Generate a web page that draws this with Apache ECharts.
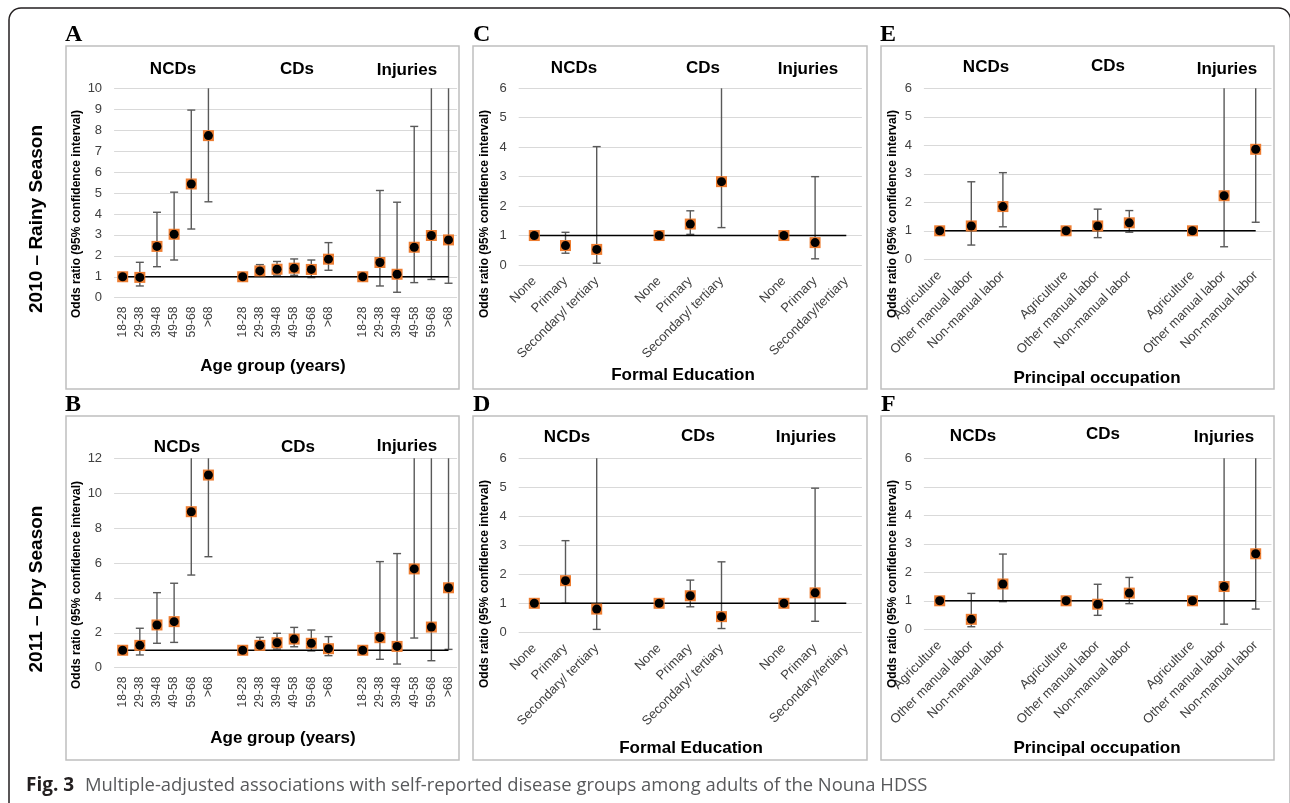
<!DOCTYPE html>
<html><head><meta charset="utf-8">
<script src="https://cdn.jsdelivr.net/npm/echarts@6/dist/echarts.min.js"></script>
<style>html,body{margin:0;padding:0;background:#fff}#c{width:1290px;height:803px}</style>
</head><body><div id="c"></div>
<script>
// ---------- DATA ----------
const groupNames = ['NCDs', 'CDs', 'Injuries'];
const ageCats = ['18-28', '29-38', '39-48', '49-58', '59-68', '>68'];
const eduCats = ['None', 'Primary', 'Secondary/ tertiary'];
const eduCatsInj = ['None', 'Primary', 'Secondary/tertiary'];
const occCats = ['Agriculture', 'Other manual labor', 'Non-manual labor'];

// Panel A: 2010 rainy season, age group (rows: NCDs, CDs, Injuries)
const aOR = [[1, 0.97, 2.45, 3.03, 5.43, 7.74], [1, 1.28, 1.36, 1.41, 1.35, 1.84], [1, 1.68, 1.12, 2.41, 2.97, 2.76]];
const aLo = [[null, 0.56, 1.48, 1.80, 3.28, 4.58], [null, 1.03, 1.08, 1.07, 0.96, 1.31], [null, 0.56, 0.26, 0.72, 0.87, 0.69]];
const aHi = [[null, 1.69, 4.08, 5.04, 8.96, 13.1], [null, 1.58, 1.73, 1.85, 1.80, 2.63], [null, 5.12, 4.56, 8.18, 10.6, 11.2]];
// Panel B: 2011 dry season, age group
const bOR = [[1, 1.28, 2.45, 2.64, 8.94, 11.04], [1, 1.28, 1.43, 1.64, 1.40, 1.09], [1, 1.72, 1.22, 5.66, 2.33, 4.58]];
const bLo = [[null, 0.73, 1.40, 1.45, 5.31, 6.36], [null, 1.08, 1.07, 1.20, 0.96, 0.69], [null, 0.48, 0.21, 1.70, 0.40, 1.05]];
const bHi = [[null, 2.26, 4.30, 4.84, 15.1, 19.3], [null, 1.74, 1.97, 2.31, 2.16, 1.78], [null, 6.08, 6.54, 19.0, 13.5, 20.3]];
// Panel C: 2010, formal education
const cOR = [[1, 0.66, 0.53], [1, 1.39, 2.83], [1, 0.76, null]];
const cLo = [[null, 0.40, 0.06], [null, 1.04, 1.27], [null, 0.21, null]];
const cHi = [[null, 1.11, 4.02], [null, 1.84, 7.5], [null, 3.00, null]];
// Panel D: 2011, formal education
const dOR = [[1, 1.78, 0.80], [1, 1.26, 0.54], [1, 1.36, null]];
const dLo = [[null, 1.00, 0.10], [null, 0.88, 0.13], [null, 0.38, null]];
const dHi = [[null, 3.16, 6.9], [null, 1.80, 2.43], [null, 4.97, null]];
// Panel E: 2010, principal occupation
const eOR = [[1, 1.17, 1.85], [1, 1.17, 1.28], [1, 2.23, 3.86]];
const eLo = [[null, 0.50, 1.14], [null, 0.76, 0.95], [null, 0.44, 1.30]];
const eHi = [[null, 2.72, 3.04], [null, 1.76, 1.71], [null, 11.3, 11.5]];
// Panel F: 2011, principal occupation
const fOR = [[1, 0.35, 1.59], [1, 0.88, 1.27], [1, 1.50, 2.65]];
const fLo = [[null, 0.09, 0.97], [null, 0.49, 0.90], [null, 0.18, 0.71]];
const fHi = [[null, 1.26, 2.64], [null, 1.58, 1.82], [null, 12.1, 9.8]];

const rowLabels = ['2010 \u2013 Rainy Season', '2011 \u2013 Dry Season'];
const yTitleText = 'Odds ratio (95% confidence interval)';
const captionBold = 'Fig. 3';
const captionText = 'Multiple-adjusted associations with self-reported disease groups among adults of the Nouna HDSS';

// ---------- LAYOUT ----------
const panels = [
  {id:'A', cats:[ageCats, ageCats, ageCats], or:aOR, lo:aLo, hi:aHi, ymax:10, yint:1, rot:90, xTitle:'Age group (years)',
   grid:{left:114.1, top:88.3, width:343, height:209.4}, box:[66,46,393,343], letter:[65,35], yTitle:[77,214], xTitlePos:[273,366], titles:[[173,69],[297,69],[407,70]]},
  {id:'B', cats:[ageCats, ageCats, ageCats], or:bOR, lo:bLo, hi:bHi, ymax:12, yint:2, rot:90, xTitle:'Age group (years)',
   grid:{left:114.1, top:458.3, width:343, height:209.4}, box:[66,416,393,344], letter:[65,405], yTitle:[77,585], xTitlePos:[283,738], titles:[[177,447],[298,447],[407,446]]},
  {id:'C', cats:[eduCats, eduCats, eduCatsInj], or:cOR, lo:cLo, hi:cHi, ymax:6, yint:1, rot:45, xTitle:'Formal Education',
   grid:{left:518.7, top:88.3, width:343.2, height:176.7}, box:[473,46,394,343], letter:[473,35], yTitle:[485,214], xTitlePos:[683,375], titles:[[574,68],[703,68],[808,69]]},
  {id:'D', cats:[eduCats, eduCats, eduCatsInj], or:dOR, lo:dLo, hi:dHi, ymax:6, yint:1, rot:45, xTitle:'Formal Education',
   grid:{left:518.7, top:458.3, width:343.2, height:174}, box:[473,416,394,344], letter:[473,405], yTitle:[485,584], xTitlePos:[691,748], titles:[[567,437],[698,436],[806,437]]},
  {id:'E', cats:[occCats, occCats, occCats], or:eOR, lo:eLo, hi:eHi, ymax:6, yint:1, rot:45, xTitle:'Principal occupation',
   grid:{left:923.9, top:88.3, width:347.6, height:171}, box:[881,46,393,343], letter:[880,35], yTitle:[893,214], xTitlePos:[1097,378], titles:[[986,67],[1108,66],[1227,69]]},
  {id:'F', cats:[occCats, occCats, occCats], or:fOR, lo:fLo, hi:fHi, ymax:6, yint:1, rot:45, xTitle:'Principal occupation',
   grid:{left:923.9, top:458.3, width:347.6, height:171}, box:[881,416,393,344], letter:[881,405], yTitle:[893,584], xTitlePos:[1097,748], titles:[[973,436],[1103,434],[1224,437]]}
];

const SANS = '"Liberation Sans", Arial, sans-serif';
const chart = echarts.init(document.getElementById('c'), null, {renderer:'canvas'});

const grids = [], xAxes = [], yAxes = [], series = [], graphics = [];

function errRender(params, api) {
  const x = api.value(0), lo = api.value(1), hi = api.value(2);
  const t = api.coord([x, hi]), b = api.coord([x, lo]);
  const cs = params.coordSys;
  const yTop = Math.max(t[1], cs.y);
  const st = {stroke:'#595959', lineWidth:1.4};
  const ch = [{type:'line', shape:{x1:t[0], y1:yTop, x2:t[0], y2:b[1]}, style:st}];
  if (t[1] >= cs.y - 0.5) ch.push({type:'line', shape:{x1:t[0]-4, y1:t[1], x2:t[0]+4, y2:t[1]}, style:st});
  ch.push({type:'line', shape:{x1:b[0]-4, y1:b[1], x2:b[0]+4, y2:b[1]}, style:st});
  return {type:'group', children:ch};
}

panels.forEach((p, i) => {
  const n = p.cats[0].length;
  const axisData = [];
  p.cats.forEach((c, g) => { if (g > 0) axisData.push(''); axisData.push(...c); });
  grids.push(Object.assign({containLabel:false}, p.grid));
  xAxes.push({type:'category', gridIndex:i, data:axisData, boundaryGap:true,
    axisLine:{show:false}, axisTick:{show:false}, splitLine:{show:false},
    axisLabel:{interval:0, rotate:p.rot, fontSize:p.rot === 90 ? 12 : 13, fontFamily:SANS, color:'#404040', margin:p.rot === 90 ? 9 : 14}});
  yAxes.push({type:'value', gridIndex:i, min:0, max:p.ymax, interval:p.yint,
    axisLine:{show:false}, axisTick:{show:false},
    axisLabel:{fontSize:13, fontFamily:SANS, color:'#404040', margin:12},
    splitLine:{lineStyle:{color:'#D9D9D9', width:1}}});
  const errData = [], ptData = [];
  for (let g = 0; g < 3; g++) {
    for (let k = 0; k < n; k++) {
      const xi = g * (n + 1) + k;
      const v = p.or[g][k];
      if (v == null) continue;
      ptData.push([xi, v]);
      if (p.lo[g][k] != null && p.hi[g][k] != null) errData.push([xi, p.lo[g][k], p.hi[g][k]]);
    }
  }
  series.push({type:'custom', xAxisIndex:i, yAxisIndex:i, renderItem:errRender, data:errData, z:2, silent:true});
  series.push({type:'line', xAxisIndex:i, yAxisIndex:i, data:axisData.map(() => 1), symbol:'none',
    lineStyle:{color:'#000', width:1.5}, z:3, silent:true});
  series.push({type:'scatter', xAxisIndex:i, yAxisIndex:i, data:ptData, symbol:'rect', symbolSize:11,
    itemStyle:{color:'#ED7D31', opacity:1}, z:4, silent:true});
  series.push({type:'scatter', xAxisIndex:i, yAxisIndex:i, data:ptData, symbol:'circle', symbolSize:9,
    itemStyle:{color:'#000', opacity:1}, z:5, silent:true});

  graphics.push({type:'rect', shape:{x:p.box[0], y:p.box[1], width:p.box[2], height:p.box[3]},
    style:{fill:'none', stroke:'#BFBFBF', lineWidth:1.5}, z:1});
  graphics.push({type:'text', x:p.letter[0], y:p.letter[1], style:{text:p.id, font:'bold 24px "Liberation Serif", "Times New Roman", serif',
    fill:'#000', textAlign:'left', textVerticalAlign:'middle'}, z:10});
  p.titles.forEach((t, g) => graphics.push({type:'text', x:t[0], y:t[1], style:{text:groupNames[g], font:'bold 17px ' + SANS,
    fill:'#000', textAlign:'center', textVerticalAlign:'middle'}, z:10}));
  graphics.push({type:'text', x:p.yTitle[0], y:p.yTitle[1], rotation:Math.PI / 2, style:{text:yTitleText, font:'bold 12px ' + SANS,
    fill:'#000', textAlign:'center', textVerticalAlign:'middle'}, z:10});
  graphics.push({type:'text', x:p.xTitlePos[0], y:p.xTitlePos[1], style:{text:p.xTitle, font:'bold 17px ' + SANS,
    fill:'#000', textAlign:'center', textVerticalAlign:'middle'}, z:10});
});

graphics.push({type:'text', x:37, y:219, rotation:Math.PI / 2, style:{text:rowLabels[0], font:'bold 19px ' + SANS,
  fill:'#000', textAlign:'center', textVerticalAlign:'middle'}, z:10});
graphics.push({type:'text', x:37, y:589, rotation:Math.PI / 2, style:{text:rowLabels[1], font:'bold 19px ' + SANS,
  fill:'#000', textAlign:'center', textVerticalAlign:'middle'}, z:10});
// outer frame (right and bottom edges fall outside the canvas)
graphics.push({type:'rect', shape:{x:9, y:8, width:1281.5, height:830, r:12},
  style:{fill:'none', stroke:'#231F20', lineWidth:1.5}, z:0});
graphics.push({type:'text', x:26, y:786, style:{text:captionBold, font:'bold 19px "Open Sans", sans-serif', fill:'#231F20',
  textAlign:'left', textVerticalAlign:'middle'}, z:10});
graphics.push({type:'text', x:85, y:786, style:{text:captionText, font:'18.4px "Open Sans", sans-serif', fill:'#58595B',
  textAlign:'left', textVerticalAlign:'middle'}, z:10});

chart.setOption({
  animation:false,
  backgroundColor:'#fff',
  grid:grids, xAxis:xAxes, yAxis:yAxes, series:series,
  graphic:{elements:graphics}
});
</script></body></html>
